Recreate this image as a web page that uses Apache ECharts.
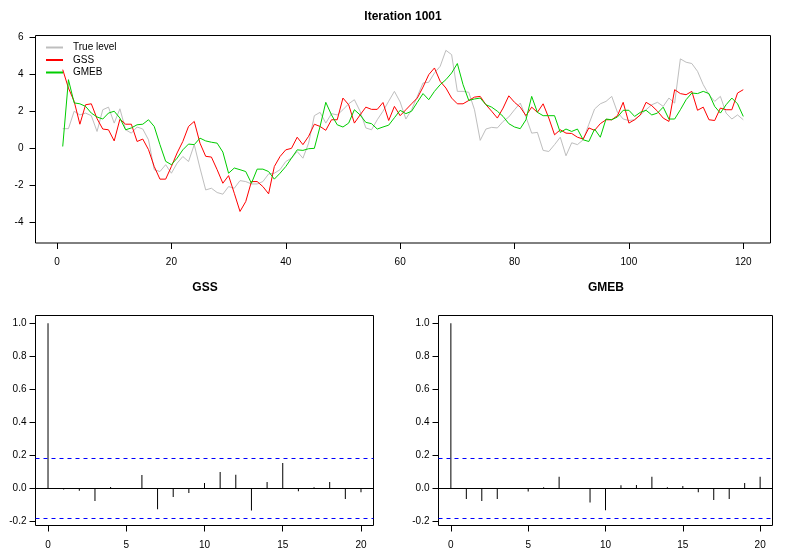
<!DOCTYPE html>
<html>
<head>
<meta charset="utf-8">
<style>
html,body{margin:0;padding:0;background:#fff;}
#c{width:806px;height:559px;}
</style>
<script src="https://cdn.jsdelivr.net/npm/echarts@6/dist/echarts.min.js"></script>
</head>
<body>
<div id="c"></div>
<script>
// ---- data ----
var trueLevel = [1.06,1.06,2.0,1.8,1.9,1.76,0.91,2.08,2.22,1.36,2.13,1.0,0.82,1.15,1.04,0.46,-1.15,-1.25,-0.88,-1.34,
-0.8,-0.44,-0.71,0.2,-1.06,-2.24,-2.15,-2.38,-2.47,-2.06,-2.15,-1.74,-1.79,-1.92,-1.92,-1.79,-1.38,-1.34,-1.15,-0.71,
-0.53,-0.17,-0.53,0.28,1.76,1.94,1.36,1.87,1.8,2.08,2.4,2.62,2.0,1.1,1.0,1.54,2.0,2.54,3.07,2.5,
1.58,2.08,2.8,3.52,3.56,4.06,4.42,5.28,5.05,3.07,3.07,3.02,2.08,0.43,1.04,1.13,1.1,1.45,1.69,2.08,
2.44,1.69,0.82,0.86,-0.11,-0.17,0.2,0.6,-0.4,0.3,0.2,0.46,1.3,2.12,2.4,2.53,2.8,1.94,1.58,1.5,
1.54,1.8,2.08,2.35,2.48,2.26,2.71,2.44,4.82,4.64,4.57,4.15,3.43,2.89,2.53,2.8,1.9,1.58,1.8,1.54];
var gss = [4.24,3.25,2.53,1.3,2.35,2.4,1.6,1.04,1.0,0.4,1.57,1.3,1.3,0.37,0.5,-0.07,-0.98,-1.66,-1.66,-0.98,
-0.25,0.37,1.18,1.45,0.28,-0.43,-0.47,-1.15,-1.88,-1.47,-2.42,-3.4,-2.87,-1.79,-1.79,-2.06,-2.45,-0.98,-0.44,-0.08,
0.0,0.6,0.2,0.65,1.3,1.18,0.97,1.54,1.54,2.71,2.35,1.36,1.8,2.22,2.1,2.1,2.47,1.5,2.26,1.76,
2.08,2.4,2.71,3.3,3.97,4.33,3.61,3.25,2.71,2.4,2.4,2.58,2.76,2.8,2.35,2.0,1.63,2.17,2.83,2.48,
2.22,1.76,2.22,1.94,2.4,1.63,0.73,1.0,0.82,0.8,0.6,0.5,1.1,0.97,1.33,1.54,1.54,1.76,2.48,1.36,
1.54,1.8,2.48,2.3,2.0,1.63,1.45,3.16,2.95,2.89,3.07,2.05,2.22,1.54,1.5,2.17,2.08,2.08,2.98,3.16];
var gmeb = [0.1,3.7,2.45,2.4,2.26,1.9,1.69,1.58,1.9,2.0,1.63,1.0,1.1,1.27,1.3,1.54,1.18,0.2,-0.7,-0.88,
-0.53,-0.08,0.23,0.2,0.55,0.4,0.33,0.28,-0.2,-1.34,-1.06,-1.15,-1.25,-1.88,-1.12,-1.12,-1.25,-1.66,-1.34,-0.98,
-0.53,-0.08,-0.11,-0.02,0.0,1.18,2.48,1.8,1.27,1.15,1.36,2.08,1.8,1.4,1.33,1.04,1.15,1.25,1.65,2.05,
1.87,2.0,2.48,2.95,2.62,3.07,3.43,3.7,4.06,4.57,3.43,2.58,2.66,2.71,2.35,2.22,2.0,1.72,1.33,1.15,
1.06,1.54,2.8,1.94,1.76,1.76,1.76,0.86,1.04,0.91,1.04,0.46,0.37,1.04,0.6,1.58,1.54,1.69,2.05,2.05,
1.72,1.94,2.05,1.8,1.9,2.22,1.58,1.58,2.08,2.62,2.98,2.95,3.07,2.95,2.26,1.9,2.35,2.71,2.4,1.72];
var gssAcf = [1.0,-0.008,-0.016,-0.078,0.008,0.0,0.08,-0.127,-0.053,-0.029,0.031,0.098,0.082,-0.135,0.037,0.153,-0.018,0.006,0.037,-0.065,-0.024];
var gmebAcf = [1.0,-0.065,-0.078,-0.065,0.0,-0.02,0.006,0.069,0.0,-0.086,-0.133,0.018,0.02,0.069,0.006,0.014,-0.024,-0.071,-0.065,0.031,0.069];
var nObs = 120;
var ciLevel = 1.96 / Math.sqrt(nObs);
var topXTicks = [0,20,40,60,80,100,120];
var topYTicks = [-4,-2,0,2,4,6];
var acfXTicks = [0,5,10,15,20];
var acfYTicks = [-0.2,0,0.2,0.4,0.6,0.8,1.0];
var mainTitle = 'Iteration 1001';
var seriesNames = ['True level','GSS','GMEB'];
var acfTitles = ['GSS','GMEB'];

// ---- chart ----
var FONT = '"Liberation Sans", Arial, Helvetica, sans-serif';
function pairs(arr, start){ return arr.map(function(v,i){ return [i+start, v]; }); }

function xAx(gi, min, max, ticks, margin){
  return {
    type:'value', gridIndex:gi, min:min, max:max,
    axisLine:{show:false, onZero:false}, splitLine:{show:false},
    axisTick:{show:true, inside:false, length:6, customValues:ticks, lineStyle:{color:'#000', width:1}},
    axisLabel:{show:true, customValues:ticks, margin:margin, color:'#000', fontFamily:FONT, fontSize:10}
  };
}
function yAx(gi, min, max, ticks, fmt, margin){
  return {
    type:'value', gridIndex:gi, min:min, max:max,
    axisLine:{show:false, onZero:false}, splitLine:{show:false},
    axisTick:{show:true, inside:false, length:6, customValues:ticks, lineStyle:{color:'#000', width:1}},
    axisLabel:{show:true, customValues:ticks, margin:margin, color:'#000', fontFamily:FONT, fontSize:10, formatter:fmt}
  };
}
var gridStyle = {show:true, borderColor:'#000', borderWidth:1, backgroundColor:'transparent'};

function acfSeries(idx, data){
  return {
    type:'bar', xAxisIndex:idx, yAxisIndex:idx, barWidth:1,
    data: pairs(data, 0), itemStyle:{color:'#000'}, silent:true,
    markLine:{
      silent:true, symbol:'none', label:{show:false}, animation:false,
      data:[
        {yAxis:0, lineStyle:{color:'#000', type:'solid', width:1}},
        {yAxis:ciLevel, lineStyle:{color:'#0000ff', type:[4,4], width:1}},
        {yAxis:-ciLevel, lineStyle:{color:'#0000ff', type:[4,4], width:1}}
      ]
    }
  };
}

var chart = echarts.init(document.getElementById('c'), null, {renderer:'canvas'});
chart.setOption({
  animation:false,
  backgroundColor:'#fff',
  title:[
    {text:mainTitle, left:403, top:11, textAlign:'center', padding:0, textStyle:{fontFamily:FONT, fontSize:12, fontWeight:'bold', color:'#000'}},
    {text:acfTitles[0], left:205, top:282, textAlign:'center', padding:0, textStyle:{fontFamily:FONT, fontSize:12, fontWeight:'bold', color:'#000'}},
    {text:acfTitles[1], left:606, top:282, textAlign:'center', padding:0, textStyle:{fontFamily:FONT, fontSize:12, fontWeight:'bold', color:'#000'}}
  ],
  legend:{
    orient:'vertical', left:45, top:42.5, padding:0, itemGap:2.5,
    itemWidth:17, itemHeight:10,
    itemStyle:{opacity:0},
    data:seriesNames,
    textStyle:{fontFamily:FONT, fontSize:10, color:'#000', padding:[0,0,0,5]},
    selectedMode:false
  },
  grid:[
    Object.assign({left:35.5, top:35.5, width:735, height:207.5}, gridStyle),
    Object.assign({left:35.5, top:315.5, width:338, height:210}, gridStyle),
    Object.assign({left:438.5, top:315.5, width:334, height:210}, gridStyle)
  ],
  xAxis:[
    xAx(0, -3.76, 124.76, topXTicks, 14),
    xAx(1, -0.8, 20.8, acfXTicks, 15),
    xAx(2, -0.8, 20.8, acfXTicks, 15)
  ],
  yAxis:[
    yAx(0, -5.1, 6.08, topYTicks, function(v){ return String(v); }, 12),
    yAx(1, -0.2262, 1.0472, acfYTicks, function(v){ return v.toFixed(1); }, 9),
    yAx(2, -0.2262, 1.0472, acfYTicks, function(v){ return v.toFixed(1); }, 9)
  ],
  series:[
    {name:seriesNames[0], type:'line', xAxisIndex:0, yAxisIndex:0, data:pairs(trueLevel,1), symbol:'none', lineStyle:{color:'#bebebe', width:1}, itemStyle:{color:'#bebebe'}},
    {name:seriesNames[1], type:'line', xAxisIndex:0, yAxisIndex:0, data:pairs(gss,1), symbol:'none', lineStyle:{color:'#ff0000', width:1}, itemStyle:{color:'#ff0000'}},
    {name:seriesNames[2], type:'line', xAxisIndex:0, yAxisIndex:0, data:pairs(gmeb,1), symbol:'none', lineStyle:{color:'#00cd00', width:1}, itemStyle:{color:'#00cd00'}},
    acfSeries(1, gssAcf),
    acfSeries(2, gmebAcf)
  ]
});
</script>
</body>
</html>
